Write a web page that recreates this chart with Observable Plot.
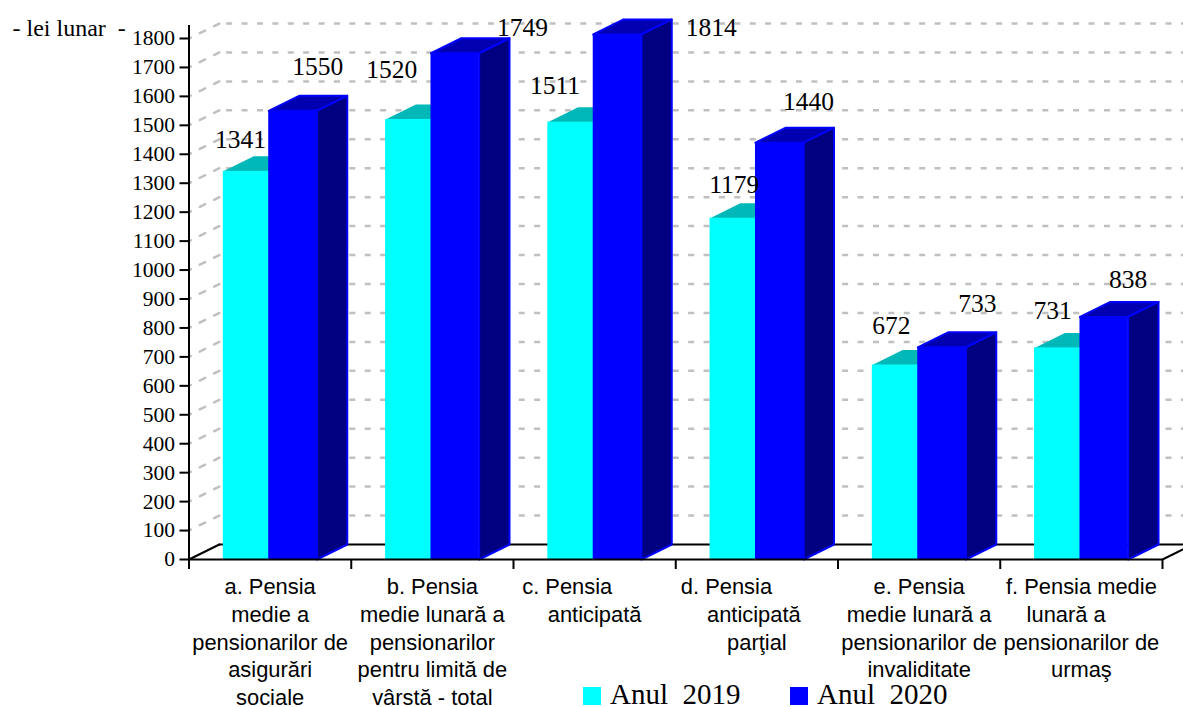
<!DOCTYPE html>
<html lang="ro">
<head>
<meta charset="utf-8">
<script src="https://cdn.jsdelivr.net/npm/d3@7"></script>
<script src="https://cdn.jsdelivr.net/npm/@observablehq/plot@0.6"></script>
<style>
  html, body { margin: 0; padding: 0; background: #fff; overflow: hidden; }
  #chart { position: relative; width: 1183px; height: 707px; }
  #legend { position: absolute; left: 0; top: 0; font-family: "Liberation Serif", serif; font-size: 29px; color: #000; line-height: 26px; }
  #legend i { position: absolute; display: block; width: 18px; height: 18px; top: 687px; }
  #legend span { position: absolute; top: 681px; white-space: pre; }
</style>
</head>
<body>
<div id="chart"></div>
<script>
const categories = [
  "a. Pensia\nmedie a\npensionarilor de\nasigurări\nsociale",
  "b. Pensia\nmedie lunară a\npensionarilor\npentru limită de\nvârstă - total",
  "c. Pensia\u00a0\u00a0\u00a0\u00a0\u00a0\u00a0\u00a0\u00a0\u00a0\nanticipată",
  "d. Pensia\u00a0\u00a0\u00a0\u00a0\u00a0\u00a0\u00a0\u00a0\u00a0\u00a0\nanticipată\u00a0\nparţial",
  "e. Pensia\nmedie lunară a\npensionarilor de\ninvaliditate",
  "f. Pensia medie\nlunară a\u00a0\u00a0\u00a0\u00a0\u00a0\npensionarilor de\nurmaş"
];
const values2019 = [1341, 1520, 1511, 1179, 672, 731];
const values2020 = [1550, 1749, 1814, 1440, 733, 838];
const yTicks = d3.range(0, 1801, 100);
const seriesNames = ["Anul  2019", "Anul  2020"];

// 3-D projection, in scale units: one category = 1 on x, the lift is in lei
const depthX = 0.187, depthY = 51.8;
const cyanLeft = 0.2115, blueLeft = 0.4914, barW = 0.297;

// hand placement of the value labels relative to the bar front, in pixels
const nudge2019 = {dx: [-7, -18, -17, 0, -5, -6], dy: [-23, -42, -28.6, -25, -30.5, -29.4]};
const nudge2020 = {dx: [25, 67.5, 94, 29, 35.6, 24], dy: [-36, -17.7, 1.5, -33, -35.8, -29.4]};

const bars = (vals, left) => vals.map((v, i) => ({i, v, l: i + left, r: i + left + barW}));
const bars2019 = bars(values2019, cyanLeft);
const bars2020 = bars(values2020, blueLeft);

const topPoly = b => [[b.l, b.v], [b.r, b.v], [b.r + depthX, b.v + depthY], [b.l + depthX, b.v + depthY]].map(p => ({x: p[0], y: p[1], z: b.i}));
const sidePoly = b => [[b.r, 0], [b.r + depthX, depthY], [b.r + depthX, b.v + depthY], [b.r, b.v]].map(p => ({x: p[0], y: p[1], z: b.i}));
const poly = (data, fill, stroke, sw) => Plot.line(data, {x: "x", y: "y", z: "z", fill, stroke, strokeWidth: sw, curve: "linear-closed"});
const front = (data, fill) => Plot.rect(data, {x1: "l", x2: "r", y1: 0, y2: "v", fill});

const wallDiagonals = yTicks.slice(1).flatMap(v => [{x: 0, y: v, z: v}, {x: depthX, y: v + depthY, z: v}]);
const valueLabels = (data, nudge, centre) => data.map((b, k) => Plot.text([b], {
  x: b => b.i + centre, y: "v", text: d => String(d.v),
  dx: nudge.dx[k], dy: nudge.dy[k], lineAnchor: "bottom", textAnchor: "middle",
  fontSize: 25.5, fontFamily: "Liberation Serif", fill: "#000"
}));

const chart = Plot.plot({
  width: 1183, height: 707,
  marginLeft: 188.5, marginRight: 21, marginTop: 38, marginBottom: 148,
  x: {domain: [0, 6]},
  y: {domain: [0, 1800]},
  style: {fontFamily: "Liberation Serif", background: "#fff", color: "#000"},
  marks: [
    // back wall grid and left wall dashes
    Plot.ruleY(yTicks.slice(1), {y: d => d + depthY, x1: depthX, x2: 6 + depthX, stroke: "#c0c0c0", strokeWidth: 2.5, strokeDasharray: "6 9.4", strokeDashoffset: 8.1}),
    Plot.line(wallDiagonals, {x: "x", y: "y", z: "z", stroke: "#c0c0c0", strokeWidth: 2.5, strokeDasharray: "6 10", strokeDashoffset: 4}),
    // floor
    Plot.ruleY([depthY], {x1: depthX, x2: 6 + depthX, stroke: "#000", strokeWidth: 2}),
    Plot.line([{x: 0, y: 0, z: 0}, {x: depthX, y: depthY, z: 0}, {x: 6, y: 0, z: 1}, {x: 6 + depthX, y: depthY, z: 1}], {x: "x", y: "y", z: "z", stroke: "#000", strokeWidth: 2}),
    // bars
    poly(bars2019.flatMap(topPoly), "#00b8b8", "none", 0),
    front(bars2019, "#00ffff"),
    poly(bars2020.flatMap(topPoly), "#0000b0", "#0000ff", 2),
    poly(bars2020.flatMap(sidePoly), "#000080", "#0000ff", 2),
    front(bars2020, "#0000ff"),
    // axes
    Plot.ruleX([0], {y1: 0, y2: 1845, stroke: "#000", strokeWidth: 2}),
    Plot.ruleY([0], {x1: 0, x2: 6, stroke: "#000", strokeWidth: 2}),
    Plot.axisY({ticks: yTicks, tickFormat: "d", label: null, tickSize: 9, tickPadding: 5, fontSize: 21.5, strokeWidth: 2, stroke: "#000", fill: "#000"}),
    Plot.axisX({ticks: d3.range(0, 7), tickFormat: () => "", label: null, tickSize: 10, strokeWidth: 2, stroke: "#000"}),
    // category labels
    Plot.text(categories, {
      x: (d, i) => i + 0.5, y: 0, text: d => d, dy: 14.7,
      lineAnchor: "top", textAnchor: "middle", lineHeight: 1.27,
      fontSize: 21.9, fontFamily: "Liberation Sans", fill: "#000"
    }),
    // value labels
    ...valueLabels(bars2019, nudge2019, cyanLeft + barW / 2),
    ...valueLabels(bars2020, nudge2020, blueLeft + barW / 2),
    // unit
    Plot.text(["-\u00a0lei\u00a0lunar\u00a0\u00a0-"], {
      x: 0, y: 1800, text: d => d, textAnchor: "start", lineAnchor: "bottom", dx: -176.5, dy: -3,
      fontSize: 24, fontFamily: "Liberation Serif", fill: "#000"
    })
  ]
});
const root = document.getElementById("chart");
root.appendChild(chart);

const legend = document.createElement("div");
legend.id = "legend";
[["#00ffff", 583, 610], ["#0000ff", 790, 817]].forEach(([c, sx, tx], k) => {
  const sw = document.createElement("i");
  sw.style.background = c; sw.style.left = sx + "px";
  const t = document.createElement("span");
  t.textContent = seriesNames[k]; t.style.left = tx + "px";
  legend.append(sw, t);
});
root.appendChild(legend);
</script>
</body>
</html>
